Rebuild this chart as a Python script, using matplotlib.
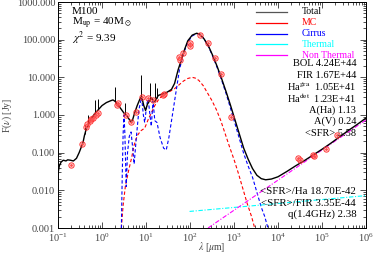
#!/usr/bin/env python3
################################################################
# SED fit of M100: total model, MC / cirrus dust components,
# thermal and non-thermal radio, observed photometry.
################################################################
import numpy as np
import matplotlib
matplotlib.use('Agg')
import matplotlib.pyplot as plt
from matplotlib.ticker import LogLocator, FixedLocator, NullFormatter

plt.rcParams['font.family'] = ['Liberation Serif', 'DejaVu Serif']
plt.rcParams['mathtext.fontset'] = 'stix'

# values as log10(lambda/um), log10(F/Jy)
total_loglam = [-1.00, -0.97, -0.93, -0.88, -0.82, -0.78, -0.72, -0.65, -0.58, -0.52,
                -0.47, -0.43, -0.40, -0.36, -0.30, -0.24, -0.17, -0.10, 0.00, 0.10,
                0.20, 0.25, 0.30, 0.36, 0.42, 0.50, 0.55, 0.60, 0.65, 0.69,
                0.74, 0.80, 0.86, 0.90, 0.95, 0.99, 1.03, 1.08, 1.13, 1.18,
                1.22, 1.28, 1.35, 1.42, 1.50, 1.58, 1.65, 1.73, 1.80, 1.88,
                1.95, 2.05, 2.15, 2.22, 2.32, 2.42, 2.52, 2.62, 2.72, 2.82,
                2.92, 3.02, 3.12, 3.22, 3.32, 3.42, 3.52, 3.62, 3.72, 3.85,
                4.00, 4.20, 4.40, 4.60, 4.80, 5.00, 5.20, 5.40, 5.60, 5.80, 6.00]
total_logf = [-1.55, -1.35, -1.25, -1.20, -1.22, -1.19, -1.20, -1.22, -1.15, -1.00,
              -0.85, -0.72, -0.55, -0.38, -0.22, -0.10, 0.03, 0.12, 0.25, 0.33,
              0.38, 0.40, 0.36, 0.27, 0.18, 0.05, 0.00, -0.08, -0.18, -0.15,
              0.05, 0.25, 0.42, 0.49, 0.25, 0.12, 0.28, 0.38, 0.45, 0.35,
              0.40, 0.52, 0.55, 0.57, 0.62, 0.68, 0.84, 1.20, 1.45, 1.75,
              1.97, 2.12, 2.17, 2.15, 2.02, 1.83, 1.57, 1.28, 0.96, 0.62,
              0.26, -0.12, -0.50, -0.88, -1.17, -1.42, -1.60, -1.69, -1.72, -1.70,
              -1.64, -1.50, -1.35, -1.21, -1.06, -0.91, -0.75, -0.58, -0.41, -0.25, -0.08]

# narrow emission lines on the total model
line_loglam = [-0.39, -0.32, -0.17, -0.09, 0.29, 0.52, 0.88, 1.08, 1.20, 1.24]
line_top_logf = [-0.26, 0.00, 0.40, 0.42, 0.75, 0.32, 1.06, 0.84, 0.84, 0.71]

mc_loglam = [0.44, 0.48, 0.53, 0.60, 0.67, 0.73, 0.80, 0.88, 0.97, 1.05,
             1.12, 1.20, 1.28, 1.35, 1.45, 1.55, 1.65, 1.75, 1.85, 1.95,
             2.05, 2.12, 2.20, 2.30, 2.40, 2.50, 2.60, 2.70, 2.80, 2.90,
             3.00, 3.10, 3.20, 3.30, 3.40, 3.47]
mc_logf = [-3.00, -2.40, -1.90, -1.50, -1.15, -0.80, -0.55, -0.42, -0.35, -0.12,
           0.05, 0.25, 0.40, 0.49, 0.57, 0.63, 0.70, 0.80, 0.90, 0.97,
           1.00, 0.98, 0.92, 0.78, 0.58, 0.38, 0.14, -0.15, -0.50, -0.85,
           -1.18, -1.55, -1.95, -2.35, -2.70, -3.00]

cirrus_loglam = [0.44, 0.46, 0.48, 0.50, 0.52, 0.55, 0.58, 0.62, 0.66, 0.70,
                 0.73, 0.78, 0.84, 0.90, 0.94, 0.97, 1.02, 1.05, 1.09, 1.12,
                 1.16, 1.20, 1.25, 1.32, 1.40, 1.46, 1.52, 1.60, 1.68, 1.76,
                 1.85, 1.95, 2.05, 2.15, 2.22, 2.32, 2.42, 2.52, 2.62, 2.72,
                 2.82, 2.92, 3.02, 3.12, 3.22, 3.32, 3.42, 3.52, 3.62, 3.70, 3.77]
cirrus_logf = [-3.00, -1.60, -0.50, 0.00, -0.50, -1.90, -1.00, -0.57, -0.45, -0.90,
               -1.30, -0.60, 0.15, 0.47, 0.00, -0.20, 0.30, 0.42, 0.00, -0.30,
               0.38, -0.15, -0.20, -0.60, -0.88, -0.93, -0.60, 0.00, 0.60, 1.20,
               1.63, 1.93, 2.10, 2.16, 2.15, 2.02, 1.82, 1.55, 1.25, 0.92,
               0.57, 0.18, -0.22, -0.62, -1.02, -1.35, -1.65, -2.05, -2.45, -2.70, -3.00]

thermal_loglam = [1.99, 6.00]
thermal_logf = [-2.56, -2.14]

nonthermal_loglam = [2.41, 6.00]
nonthermal_logf = [-3.00, -0.13]

obs_loglam = [-0.70, -0.45, -0.36, -0.33, -0.28, -0.24, -0.20, -0.13, -0.10, 0.33,
              0.36, 0.55, 0.67, 0.78, 0.90, 1.05, 1.16, 1.39, 1.42, 1.76,
              1.78, 1.84, 1.99, 2.00, 2.22, 2.41, 2.56, 2.71, 2.94, 4.45,
              4.50, 4.80, 4.82, 5.10, 5.33]
obs_logf = [-1.32, -0.76, -0.31, -0.25, -0.17, -0.10, -0.08, 0.00, 0.05, 0.27,
            0.31, 0.00, -0.18, 0.09, 0.49, 0.45, 0.40, 0.53, 0.56, 1.55,
            1.45, 1.64, 1.90, 1.83, 2.12, 1.90, 1.51, 1.09, -0.04, -1.15,
            -1.20, -1.06, -1.10, -0.90, -0.53]

legend_labels = ['Total', 'MC', 'Cirrus', 'Thermal', 'Non Thermal']
legend_colors = ['#555555', 'red', 'blue', 'cyan', 'magenta']
legend_text_colors = ['black', 'red', 'blue', 'cyan', 'magenta']

name_lines = ['M100', r'M$_{\rm up}$ = 40M$_\odot$', r'$\chi^2$ = 9.39']
info_lines = ['BOL 4.24E+44', 'FIR 1.67E+44', r'Ha$^{\rm gra}$  1.05E+41',
              r'Ha$^{\rm det}$  1.23E+41', 'A(Ha) 1.13', 'A(V) 0.24', '<SFR> 5.58']
sfr_lines = ['<SFR>/Ha 18.70E-42', '<SFR>/FIR 3.35E-44', 'q(1.4GHz) 2.38']


def lin(values):
    return 10.0 ** np.asarray(values)


def run():
    fig = plt.figure(figsize=(3.74, 2.54), dpi=100)
    ax = fig.add_axes([58 / 374, 26 / 254, 308 / 374, 226 / 254])

    ax.plot(lin(mc_loglam), lin(mc_logf), color='red', ls=(0, (3, 2)), lw=0.8)
    ax.plot(lin(cirrus_loglam), lin(cirrus_logf), color='blue', ls=(0, (3, 2)), lw=0.8)
    ax.plot(lin(thermal_loglam), lin(thermal_logf), color='cyan', ls=(0, (4, 1.5, 1, 1.5)), lw=0.8)
    ax.plot(lin(nonthermal_loglam), lin(nonthermal_logf), color='magenta',
            ls=(0, (4, 1.5, 1, 1.5)), lw=0.8)

    ax.plot(lin(total_loglam), lin(total_logf), color='black', lw=1.0)
    line_base = np.interp(line_loglam, total_loglam, total_logf)
    ax.vlines(lin(line_loglam), lin(line_base), lin(line_top_logf), color='black', lw=0.7)

    ax.plot(lin(obs_loglam), lin(obs_logf), ls='none', marker='o', ms=3.8,
            mfc='none', mec='#ff3030', mew=0.7)
    ax.plot(lin(obs_loglam), lin(obs_logf), ls='none', marker='D', ms=1.6,
            mfc='#ff5050', mec='#ff5050', mew=0.3)

    ax.set_xscale('log')
    ax.set_yscale('log')
    ax.set_xlim(0.1, 1e6)
    ax.set_ylim(1e-3, 1e3)

    yt = [1e-3, 1e-2, 1e-1, 1, 10, 100, 1000]
    ax.yaxis.set_major_locator(FixedLocator(yt))
    ax.set_yticklabels(['%.3f' % v for v in yt])
    ax.yaxis.set_minor_locator(LogLocator(base=10, subs=np.arange(2, 10), numticks=20))
    ax.xaxis.set_major_locator(LogLocator(base=10, numticks=10))
    ax.xaxis.set_minor_locator(LogLocator(base=10, subs=np.arange(2, 10), numticks=20))
    ax.xaxis.set_minor_formatter(NullFormatter())
    ax.yaxis.set_minor_formatter(NullFormatter())

    ax.tick_params(which='both', direction='in', top=True, right=True,
                   labelsize=7.5, width=0.6, colors='#333333', labelcolor='#444444')
    ax.tick_params(which='major', length=4.5)
    ax.tick_params(which='minor', length=2.2)
    ax.tick_params(axis='x', pad=2.5)
    ax.tick_params(axis='y', pad=2)
    for sp in ax.spines.values():
        sp.set_linewidth(0.7)

    ax.set_xlabel(r'$\lambda$ [$\mu$m]', fontsize=7, color='#444444', va='center')
    ax.xaxis.set_label_coords(0.5, -0.085)
    ax.set_ylabel(r'F($\nu$) [Jy]', fontsize=7, color='#444444', va='center')
    ax.yaxis.set_label_coords(-0.165, 0.5)

    # legend drawn by hand, IDL style
    y0, dy = 0.957, 0.0482
    for i, (lab, c, tc) in enumerate(zip(legend_labels, legend_colors, legend_text_colors)):
        y = y0 - i * dy
        ax.plot([0.643, 0.743], [y, y], transform=ax.transAxes, color=c, lw=0.9)
        ax.text(0.792, y, lab, transform=ax.transAxes, color=tc, fontsize=7,
                va='center', ha='left')

    y0, dy = 0.726, 0.0511
    for i, txt in enumerate(info_lines):
        ax.text(0.968, y0 - i * dy, txt, transform=ax.transAxes, fontsize=7.5,
                va='center', ha='right')

    for txt, y in zip(sfr_lines, [0.161, 0.108, 0.060]):
        ax.text(0.968, y, txt, transform=ax.transAxes, fontsize=7.8,
                va='center', ha='right')

    for txt, y in zip(name_lines, [0.958, 0.905, 0.840]):
        ax.text(0.045, y, txt, transform=ax.transAxes, fontsize=8,
                va='center', ha='left')

    fig.savefig('out.png', dpi=100)


def main():
    run()


if __name__ == '__main__':
    main()
